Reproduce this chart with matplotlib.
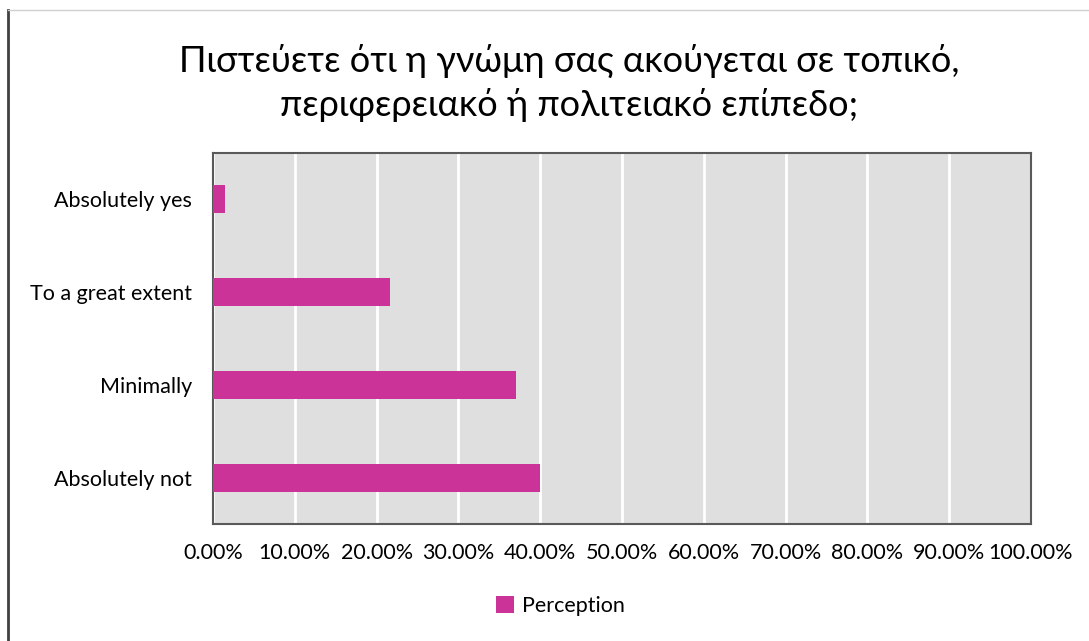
import matplotlib.pyplot as plt
import numpy as np
from matplotlib.lines import Line2D
from matplotlib.ticker import FuncFormatter

# data
categories = ["Absolutely not", "Minimally", "To a great extent", "Absolutely yes"]
values = [40.0, 37.0, 21.6, 1.5]
series_name = "Perception"
title = "Πιστεύετε ότι η γνώμη σας ακούγεται σε τοπικό,\nπεριφερειακό ή πολιτειακό επίπεδο;"

bar_color = "#CC3399"
plt.rcParams['font.family'] = ['Lato', 'DejaVu Sans']

fig = plt.figure(figsize=(10.89, 6.41), dpi=100)
ax = fig.add_axes([213 / 1089, 1 - 524 / 641, (1031 - 213) / 1089, (524 - 153) / 641])

ax.set_facecolor("#DFDFDF")
y = np.arange(len(categories))
ax.barh(y, values, height=0.3, color=bar_color, label=series_name, zorder=3)

ax.set_xlim(0, 100)
ax.set_ylim(-0.5, len(categories) - 0.5)
ax.set_xticks(np.arange(0, 101, 10))
ax.xaxis.set_major_formatter(FuncFormatter(lambda v, p: "%.2f%%" % v))
ax.set_yticks(y)
ax.set_yticklabels(categories)
ax.tick_params(axis='both', length=0, labelsize=15.5, colors="#000000")
ax.tick_params(axis='x', pad=14)
ax.tick_params(axis='y', pad=15)
ax.grid(axis='x', color="white", linewidth=2, zorder=1)
for s in ax.spines.values():
    s.set_color("#595959")
    s.set_linewidth(1.5)

fig.text(0.523, 1 - 83 / 641, title, ha='center', va='center', fontsize=26,
         linespacing=1.35)

ax.legend(loc='center', bbox_to_anchor=(0.515, 1 - 606 / 641), bbox_transform=fig.transFigure,
          frameon=False, fontsize=15.5, handlelength=0.8, handleheight=0.8, handletextpad=0.4)

# outer chart frame
fig.add_artist(Line2D([8 / 1089, 8 / 1089], [0, 1 - 10 / 641], transform=fig.transFigure,
                      color="#404040", linewidth=2))
fig.add_artist(Line2D([8 / 1089, 1], [1 - 10 / 641, 1 - 10 / 641], transform=fig.transFigure,
                      color="#D0D0D0", linewidth=1))

fig.savefig("out.png", dpi=100)
